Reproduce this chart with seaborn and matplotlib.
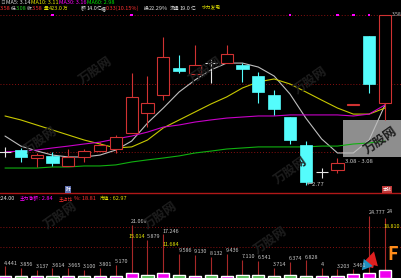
import numpy as np
import pandas as pd
import matplotlib
matplotlib.use("Agg")
import matplotlib.pyplot as plt
import seaborn as sns

# ---------------- data ----------------
opens  = [2.925, 2.934, 2.896, 2.906, 2.858, 2.901, 2.929, 2.939, 3.016, 3.111, 3.197, 3.326, 3.298,
          3.350, 3.350, 3.341, 3.288, 3.197, 3.092, 2.958, 2.829, 2.839, 3.149, 3.480, 3.159]
highs  = [2.949, 2.944, 2.920, 2.925, 2.939, 2.939, 2.972, 3.006, 3.303, 3.288, 3.475, 3.389, 3.436,
          3.370, 3.436, 3.350, 3.307, 3.221, 3.092, 2.977, 2.848, 2.896, 3.154, 3.480, 3.580]
lows   = [2.901, 2.877, 2.853, 2.858, 2.858, 2.877, 2.929, 2.920, 3.016, 3.044, 3.173, 3.303, 3.298,
          3.255, 3.350, 3.260, 3.159, 3.102, 2.963, 2.767, 2.800, 2.824, 3.149, 3.207, 3.078]
closes = [2.925, 2.901, 2.910, 2.872, 2.901, 2.929, 2.958, 2.996, 3.188, 3.159, 3.379, 3.312, 3.341,
          3.350, 3.393, 3.322, 3.212, 3.130, 2.982, 2.781, 2.829, 2.872, 3.154, 3.250, 3.580]

ma5  = [3.001, 2.953, 2.930, 2.910, 2.901, 2.901, 2.910, 2.934, 2.977, 3.063, 3.135, 3.212, 3.269,
        3.317, 3.350, 3.350, 3.331, 3.288, 3.202, 3.087, 2.987, 2.920, 2.920, 2.982, 3.150]
ma10 = [3.097, 3.078, 3.054, 3.030, 3.006, 2.982, 2.963, 2.944, 2.949, 2.982, 3.040, 3.078, 3.116,
        3.154, 3.188, 3.231, 3.260, 3.274, 3.250, 3.212, 3.173, 3.135, 3.106, 3.106, 3.135]
ma30 = [2.925, 2.929, 2.934, 2.944, 2.953, 2.963, 2.972, 2.987, 3.001, 3.020, 3.044, 3.054, 3.068,
        3.078, 3.087, 3.092, 3.097, 3.097, 3.102, 3.102, 3.102, 3.102, 3.097, 3.106, 3.150]
ma60 = [2.848, 2.848, 2.848, 2.853, 2.853, 2.858, 2.858, 2.863, 2.877, 2.887, 2.896, 2.906, 2.920,
        2.929, 2.939, 2.944, 2.949, 2.949, 2.949, 2.949, 2.953, 2.953, 2.963, 2.968, 2.977]

flow_values = [4.441, 3.856, 3.137, 3.614, 3.665, 3.100, 3.801, 5.170, 21.069, 15.014, 17.246, 9.586, 9.130,
               8.132, 9.436, 7.110, 6.541, 3.714, 6.374, 6.828, 4.0, 3.203, 3.461, 24.777, 24.0]
flow_labels = ["4.441", "3.856", "3.137", "3.614", "3.665", "3.100", "3.801", "5.170", "21.069", "5.879",
               "17.246", "9.586", "9.130", "8.132", "9.436", "7.110", "6.541", "3.714", "6.374", "6.828",
               "4", "3.203", "3.461", "24.777", "24"]
net_values = [0.8, -0.8, 0.6, -0.6, 0.8, -0.8, 0.8, 0.8, 2.0, -1.2, 1.8, -1.2, 0.8,
              -1.0, 0.6, -1.0, -1.2, -0.8, -1.2, -0.8, 0.8, 0.6, 1.6, 2.0, 3.2]
signal_days = [3, 8, 18, 21, 22, 23]
price_grid = [3.58, 3.25, 2.925]
flow_grid = [20.2, 12.2]

# ---------------- style ----------------
W, H = 401, 278
sns.set_theme(style="dark", rc={"axes.facecolor": "black", "figure.facecolor": "black"})
FONT = ["Liberation Sans Narrow", "Noto Sans CJK SC", "DejaVu Sans"]
CJK = ["Noto Sans CJK SC", "DejaVu Sans"]
plt.rcParams["font.family"] = FONT

RED = "#D03232"
CYAN = "#54FCFC"
WHITE = "#E6E6E6"

fig = plt.figure(figsize=(W / 100, H / 100), dpi=100, facecolor="black")
ax = fig.add_axes([0, 85 / H, 1, 193 / H])
axl = fig.add_axes([0, 0, 1, 85 / H])
renderer = fig.canvas.get_renderer()

n = len(opens)
idx = np.arange(n)
step = 15.833
xlim = (-5 / step, 396 / step)

for a in (ax, axl):
    a.set_facecolor("black")
    a.set_xlim(*xlim)
    a.set_xticks([]); a.set_yticks([])
    a.set_xlabel(""); a.set_ylabel("")
    for s in a.spines.values():
        s.set_visible(False)
    a.grid(False)

ax.set_ylim(2.7286, 3.6517)
axl.set_ylim(-0.2, 33.8)

# watermark (faint)
for (wx, wy) in [(95, 70), (205, 70), (310, 80), (60, 215), (160, 215), (290, 170), (270, 240), (380, 140), (40, 140)]:
    fig.text(wx / W, 1 - wy / H, "万股网", color="#1d1d1d", fontsize=9, rotation=35,
             ha="center", va="center", family=CJK, fontweight="bold")

# grid lines
for g in price_grid:
    ax.axhline(g, color="#8A1010", lw=0.7, ls=(0, (1, 2)), zorder=1)
for g in flow_grid:
    axl.axhline(g, color="#8A1010", lw=0.7, ls=(0, (1, 2)), zorder=1)

# grey range box
ax.add_patch(plt.Rectangle(((343 - 5) / step, 2.901), 60 / step, 3.078 - 2.901,
                           facecolor="#8E8E8E", edgecolor="none", zorder=1.5))

# moving averages via seaborn
ma_df = pd.DataFrame({
    "day": np.concatenate([idx] * 4),
    "price": ma5 + ma10 + ma30 + ma60,
    "MA": ["MA5"] * n + ["MA10"] * n + ["MA30"] * n + ["MA60"] * n,
})
sns.lineplot(data=ma_df, x="day", y="price", hue="MA", ax=ax, legend=False,
             palette={"MA5": "#BEBEBE", "MA10": "#C8C800", "MA30": "#C800C8", "MA60": "#10B010"},
             linewidth=0.8, zorder=2)
ax.set_xlabel(""); ax.set_ylabel("")

# candles
o = np.array(opens); h = np.array(highs); l = np.array(lows); c = np.array(closes)
bw = 0.76
up = c > o
dn = c < o
eq = c == o
ax.vlines(idx[dn], l[dn], h[dn], color=CYAN, lw=0.8, zorder=3)
ax.bar(idx[dn], (o - c)[dn], bottom=c[dn], width=bw, color=CYAN, edgecolor=CYAN, lw=0.5, zorder=4)
ax.vlines(idx[up], c[up], h[up], color=RED, lw=0.8, zorder=3)
ax.vlines(idx[up], l[up], o[up], color=RED, lw=0.8, zorder=3)
ax.bar(idx[up], (c - o)[up], bottom=o[up], width=bw, facecolor="black", edgecolor=RED, lw=0.8, zorder=4)
ax.vlines(idx[eq], l[eq], h[eq], color=WHITE, lw=0.8, zorder=3)
ax.hlines(c[eq], idx[eq] - bw / 2, idx[eq] + bw / 2, color=WHITE, lw=0.8, zorder=3)

# signal dots
sig_df = pd.DataFrame({"day": signal_days, "price": [price_grid[0]] * len(signal_days)})
sns.scatterplot(data=sig_df, x="day", y="price", ax=ax, color="#FF00FF", marker="s", s=3,
                edgecolor="none", zorder=5, legend=False)
ax.set_xlabel(""); ax.set_ylabel("")

# price annotations
ax.text(19 + 0.05, lows[19], "←2.77", color="#C8C8C8", fontsize=4.3, va="center", ha="left", zorder=6)
ax.text((345 - 5) / step, 2.877, "3.08 - 3.08", color="#C8C8C8", fontsize=4.3, va="center", ha="left", zorder=6)
ax.text(24 + 0.45, highs[24], "3.58", color="#C8C8C8", fontsize=3.6, va="center", ha="left", zorder=6)

# lower panel: bars + flow lines
bar_colors = ["#F000F0" if v > 0 else "#3CB43C" for v in net_values]
axl.bar(idx, np.abs(net_values), width=bw, color=bar_colors, zorder=3)
axl.vlines(idx, 0, flow_values, color="#A82828", lw=0.8, zorder=2)
for i, (v, lab) in enumerate(zip(flow_values, flow_labels)):
    if i == 24:
        continue
    axl.text(i - 0.05, v + 1.3, lab, color="#C8C8C8", fontsize=3.9, ha="left", va="center", zorder=4)
axl.text(24 + 0.12, flow_values[24] + 1.3, flow_labels[24], color="#C8C8C8", fontsize=3.9,
         ha="left", va="bottom", zorder=4)
axl.text(9 - 0.12, flow_values[9] + 1.3, "15.014", color="#E6E600", fontsize=3.9, ha="right", va="center")
axl.text(10 - 0.05, flow_values[10] - 4.2, "11.684", color="#E6E600", fontsize=3.9, ha="left", va="center")
axl.text(23.9, flow_grid[0], "18.810", color="#E6E600", fontsize=3.9, ha="left", va="center")
axl.spines["top"].set_visible(True)
axl.spines["top"].set_color("#B01818")
axl.spines["top"].set_linewidth(1.0)

# logo-ish mark bottom right
fig.text(393 / W, 1 - 255 / H, "F", color="#FF8C1A", fontsize=13, fontweight="bold",
         ha="center", va="center", family=CJK)
axl.annotate("", xy=(23.35, 11.5), xytext=(23.0, 3.0),
             arrowprops=dict(arrowstyle="simple,head_width=0.9,head_length=0.8,tail_width=0.4",
                             color="#E02020", lw=0))
axl.annotate("", xy=(22.6, 8.5), xytext=(22.9, 3.5),
             arrowprops=dict(arrowstyle="simple,head_width=0.7,head_length=0.6,tail_width=0.3",
                             color="#2090C0", lw=0))


# ---------------- header texts ----------------
def seq(x, y, pieces, size=4.0):
    """Place text pieces one after another starting at pixel x."""
    for s, color, cjk in pieces:
        t = fig.text(x / W, 1 - y / H, s, color=color, fontsize=(size * 0.85 if cjk else size),
                     va="center", ha="left", family=(CJK if cjk else FONT))
        x += t.get_window_extent(renderer).width + 0.3
    return x


WH = "#E0E0E0"; YL = "#E6E600"; MG = "#FF00FF"; RD = "#FF3030"; GR = "#20D020"

seq(0, 2.5, [("日", "#909090", True)])
seq(6, 2.5, [("MA5: 3.14", "#DCDCDC", False)])
seq(31, 2.5, [("MA10: 3.11", YL, False)])
seq(59, 2.5, [("MA30: 3.16", MG, False)])
seq(87, 2.5, [("MA60: 2.98", "#00E000", False)])

seq(0, 8.5, [("3.58", RD, False)])
seq(11, 8.5, [("低", WH, True), ("3.08", GR, False)])
seq(27, 8.5, [("收", WH, True), ("3.58", RD, False)])
seq(44, 8.5, [("量", YL, True), ("423.0", YL, False), ("万", YL, True)])
seq(81, 8.5, [("额", WH, True), ("14.0", WH, False), ("亿", WH, True)])
seq(101, 8.5, [("幅", WH, True), ("0.33(10.15%)", RD, False)])
seq(144, 8.5, [("换", WH, True), ("22.29%", WH, False)])
seq(170, 8.5, [("流通", WH, True), ("19.0", WH, False), ("亿", WH, True)])
seq(202, 7.0, [("水力发电", YL, True)])

seq(0, 198.5, [(":24.00", WH, False)])
seq(20, 198.5, [("主力净额", MG, True), (": 2.84", MG, False)])
seq(59, 198.5, [("主占比", RD, True), ("%: 18.81", RD, False)])
seq(100, 198.5, [("市值", YL, True), (": 62.97", YL, False)])

fig.text(65.5 / W, 1 - 189.5 / H, "财", color="white", fontsize=3.4, va="center", ha="left", family=CJK,
         bbox=dict(boxstyle="square,pad=0.15", fc="#6070B0", ec="none"))
fig.text(382.5 / W, 1 - 189.5 / H, "本钱", color="white", fontsize=3.2, va="center", ha="left", family=CJK,
         bbox=dict(boxstyle="square,pad=0.15", fc="#C03838", ec="none"))

fig.savefig("out.png", dpi=100, facecolor="black")
